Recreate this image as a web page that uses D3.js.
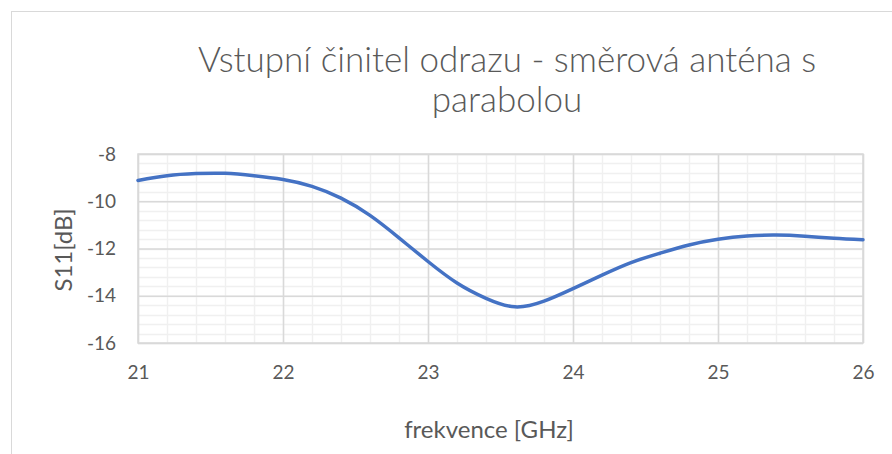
<!DOCTYPE html>
<html>
<head>
<meta charset="utf-8">
<script src="https://d3js.org/d3.v7.min.js"></script>
<style>
  body { margin: 0; background: #fff; }
  text { font-family: Lato, "Open Sans", sans-serif; fill: #595959; }
</style>
</head>
<body>
<div id="chart"></div>
<script>
// frequency [GHz] and S11 [dB]
var freq = [21.0, 21.2, 21.4, 21.6, 21.8, 22.0, 22.2, 22.4, 22.6, 22.8, 23.0, 23.2, 23.4,
            23.6, 23.8, 24.0, 24.2, 24.4, 24.6, 24.8, 25.0, 25.2, 25.4, 25.6, 25.8, 26.0];
var s11 = [-9.12, -8.92, -8.83, -8.82, -8.92, -9.08, -9.37, -9.87, -10.6, -11.55, -12.55, -13.46, -14.11,
           -14.47, -14.23, -13.7, -13.13, -12.6, -12.2, -11.85, -11.61, -11.47, -11.43, -11.48, -11.57, -11.63];
var xTicks = [21, 22, 23, 24, 25, 26];
var yTicks = [-8, -10, -12, -14, -16];
var titleLines = ["Vstupní činitel odrazu - směrová anténa s", "parabolou"];

var W = 892, H = 454;
var margin = { top: 154, right: 29, bottom: 111, left: 138 };
var width = W - margin.left - margin.right,
    height = H - margin.top - margin.bottom;

var svg = d3.select("#chart").append("svg")
    .attr("width", W)
    .attr("height", H);

// chart frame
svg.append("rect")
    .attr("x", 11.5).attr("y", 11.5)
    .attr("width", 1000).attr("height", 1000)
    .attr("fill", "none")
    .attr("stroke", "#d9d9d9");

var g = svg.append("g")
    .attr("transform", "translate(" + margin.left + "," + margin.top + ")");

var x = d3.scaleLinear().domain([21, 26]).range([0, width]);
var y = d3.scaleLinear().domain([-16, -8]).range([height, 0]);

// minor grid
g.append("g")
    .selectAll("line")
    .data(d3.range(21, 26.001, 0.2))
    .enter().append("line")
    .attr("x1", function (d) { return Math.round(x(d)) + 0.5; })
    .attr("x2", function (d) { return Math.round(x(d)) + 0.5; })
    .attr("y1", 0).attr("y2", height)
    .attr("stroke", "#f0f0f0").attr("stroke-width", 1.5);
g.append("g")
    .selectAll("line")
    .data(d3.range(-16, -7.999, 0.4))
    .enter().append("line")
    .attr("y1", function (d) { return Math.round(y(d)) + 0.5; })
    .attr("y2", function (d) { return Math.round(y(d)) + 0.5; })
    .attr("x1", 0).attr("x2", width)
    .attr("stroke", "#f0f0f0").attr("stroke-width", 1.5);

// major grid
var fmt = function (d) { return d3.format("d")(d).replace("−", "-"); };
var xAxis = d3.axisBottom(x).tickValues(xTicks).tickSize(-height).tickPadding(23).tickFormat(fmt);
var yAxis = d3.axisLeft(y).tickValues(yTicks).tickSize(-width).tickPadding(22).tickFormat(fmt);

var gx = g.append("g")
    .attr("transform", "translate(0," + height + ")")
    .call(xAxis);
var gy = g.append("g").call(yAxis);

[gx, gy].forEach(function (a) {
    a.select(".domain").remove();
    a.selectAll(".tick line").attr("stroke", "#d9d9d9").attr("stroke-width", 1.5);
    a.selectAll(".tick text").style("font-size", "19px").attr("fill", "#595959");
});

// plot border
g.append("rect")
    .attr("width", width).attr("height", height)
    .attr("fill", "none").attr("stroke", "#d9d9d9").attr("stroke-width", 1.5);

// series
var pts = freq.map(function (f, i) { return [f, s11[i]]; });
var line = d3.line()
    .x(function (d) { return x(d[0]); })
    .y(function (d) { return y(d[1]); })
    .curve(d3.curveNatural);
g.append("path")
    .datum(pts)
    .attr("d", line)
    .attr("fill", "none")
    .attr("stroke", "#4472c4")
    .attr("stroke-width", 3.5)
    .attr("stroke-linecap", "round");

// title
svg.append("text")
    .attr("x", 507).attr("y", 72)
    .attr("text-anchor", "middle")
    .style("font-size", "35px").style("font-weight", 300)
    .selectAll("tspan")
    .data(titleLines)
    .enter().append("tspan")
    .attr("x", 507)
    .attr("dy", function (d, i) { return i ? 40 : 0; })
    .text(function (d) { return d; });

// axis titles
svg.append("text")
    .attr("x", 489).attr("y", 438)
    .attr("text-anchor", "middle")
    .style("font-size", "24px")
    .text("frekvence [GHz]");

svg.append("text")
    .attr("transform", "translate(72,250) rotate(-90)")
    .attr("text-anchor", "middle")
    .style("font-size", "24px")
    .text("S11[dB]");
</script>
</body>
</html>
